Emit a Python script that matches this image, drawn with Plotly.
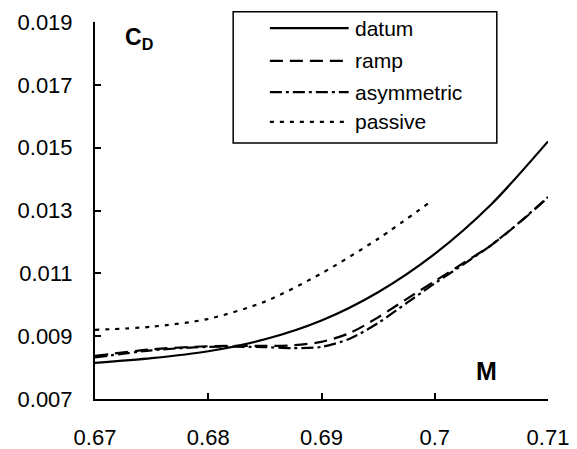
import plotly.graph_objects as go

# Data
x_datum = [0.67, 0.675, 0.68, 0.685, 0.69, 0.695, 0.70, 0.705, 0.71]
y_datum = [0.00815, 0.0083, 0.00852, 0.0089, 0.0095, 0.0104, 0.01162, 0.0132, 0.0152]

x_ramp = [0.67, 0.675, 0.68, 0.685, 0.6875, 0.69, 0.6925, 0.695, 0.6975, 0.70, 0.7025, 0.705, 0.7075, 0.71]
y_ramp = [0.00837, 0.00858, 0.00868, 0.00869, 0.00871, 0.00882, 0.0091, 0.0096, 0.01018, 0.01075,
          0.01132, 0.0119, 0.01262, 0.01341]

x_asym = [0.67, 0.675, 0.68, 0.685, 0.6875, 0.69, 0.6925, 0.695, 0.6975, 0.70, 0.7025, 0.705, 0.7075, 0.71]
y_asym = [0.00832, 0.00855, 0.00866, 0.00865, 0.00862, 0.00866, 0.00892, 0.00942, 0.01005, 0.01068,
          0.01128, 0.0119, 0.01263, 0.01343]

x_passive = [0.67, 0.675, 0.68, 0.685, 0.69, 0.695, 0.6997]
y_passive = [0.0092, 0.0093, 0.00955, 0.0101, 0.0110, 0.0121, 0.0133]

x_ticks = [0.67, 0.68, 0.69, 0.70, 0.71]
x_ticktext = ["0.67", "0.68", "0.69", "0.7", "0.71"]
y_ticks = [0.007, 0.009, 0.011, 0.013, 0.015, 0.017, 0.019]
y_ticktext = ["0.007", "0.009", "0.011", "0.013", "0.015", "0.017", "0.019"]

series_names = ["datum", "ramp", "asymmetric", "passive"]
dashes = ["solid", "13px,7px", "12px,4px,3px,4px", "4px,6px"]

FONT = "Liberation Sans, Arial, sans-serif"

fig = go.Figure()
for xs, ys, name, d in zip([x_datum, x_ramp, x_asym, x_passive],
                           [y_datum, y_ramp, y_asym, y_passive],
                           series_names, dashes):
    fig.add_trace(go.Scatter(x=xs, y=ys, mode="lines", name=name,
                             line=dict(color="black", width=2.2, dash=d, shape="spline",
                                       smoothing=0.8),
                             showlegend=False))

# Custom legend box
shapes = [dict(type="rect", xref="paper", yref="paper", x0=0.305, x1=0.887,
               y0=0.679, y1=1.027, line=dict(color="black", width=1.5), fillcolor="white")]
annotations = []
row_y = [0.984, 0.897, 0.814, 0.735]
for name, d, yy in zip(series_names, dashes, row_y):
    shapes.append(dict(type="line", xref="paper", yref="paper", x0=0.386, x1=0.56,
                       y0=yy, y1=yy, line=dict(color="black", width=2.2, dash=d)))
    annotations.append(dict(text=name, xref="paper", yref="paper", x=0.57, y=yy,
                            xanchor="left", yanchor="middle", showarrow=False,
                            font=dict(family=FONT, size=21, color="black")))

annotations.append(dict(text="<b>C<sub>D</sub></b>", xref="paper", yref="paper",
                        x=0.062, y=0.955, xanchor="left", yanchor="middle",
                        showarrow=False, font=dict(family=FONT, size=23, color="black")))
annotations.append(dict(text="<b>M</b>", xref="paper", yref="paper",
                        x=0.865, y=0.074, xanchor="center", yanchor="middle",
                        showarrow=False, font=dict(family=FONT, size=25, color="black")))

fig.update_layout(
    width=577, height=449,
    margin=dict(l=95, r=29, t=22, b=50),
    paper_bgcolor="white", plot_bgcolor="white",
    font=dict(family=FONT, size=22, color="black"),
    shapes=shapes, annotations=annotations,
    xaxis=dict(range=[0.67, 0.71], tickvals=x_ticks, ticktext=x_ticktext,
               showgrid=False, zeroline=False, showline=True, linecolor="black",
               linewidth=2, ticks="inside", ticklen=6, tickwidth=2, tickcolor="black",
               ticklabelstandoff=18, tickfont=dict(family=FONT, size=22), automargin=False),
    yaxis=dict(range=[0.007, 0.019], tickvals=y_ticks, ticktext=y_ticktext,
               showgrid=False, zeroline=False, showline=True, linecolor="black",
               linewidth=2, ticks="inside", ticklen=6, tickwidth=2, tickcolor="black",
               ticklabelstandoff=16, tickfont=dict(family=FONT, size=22), automargin=False),
)

fig.write_html("out.html")
